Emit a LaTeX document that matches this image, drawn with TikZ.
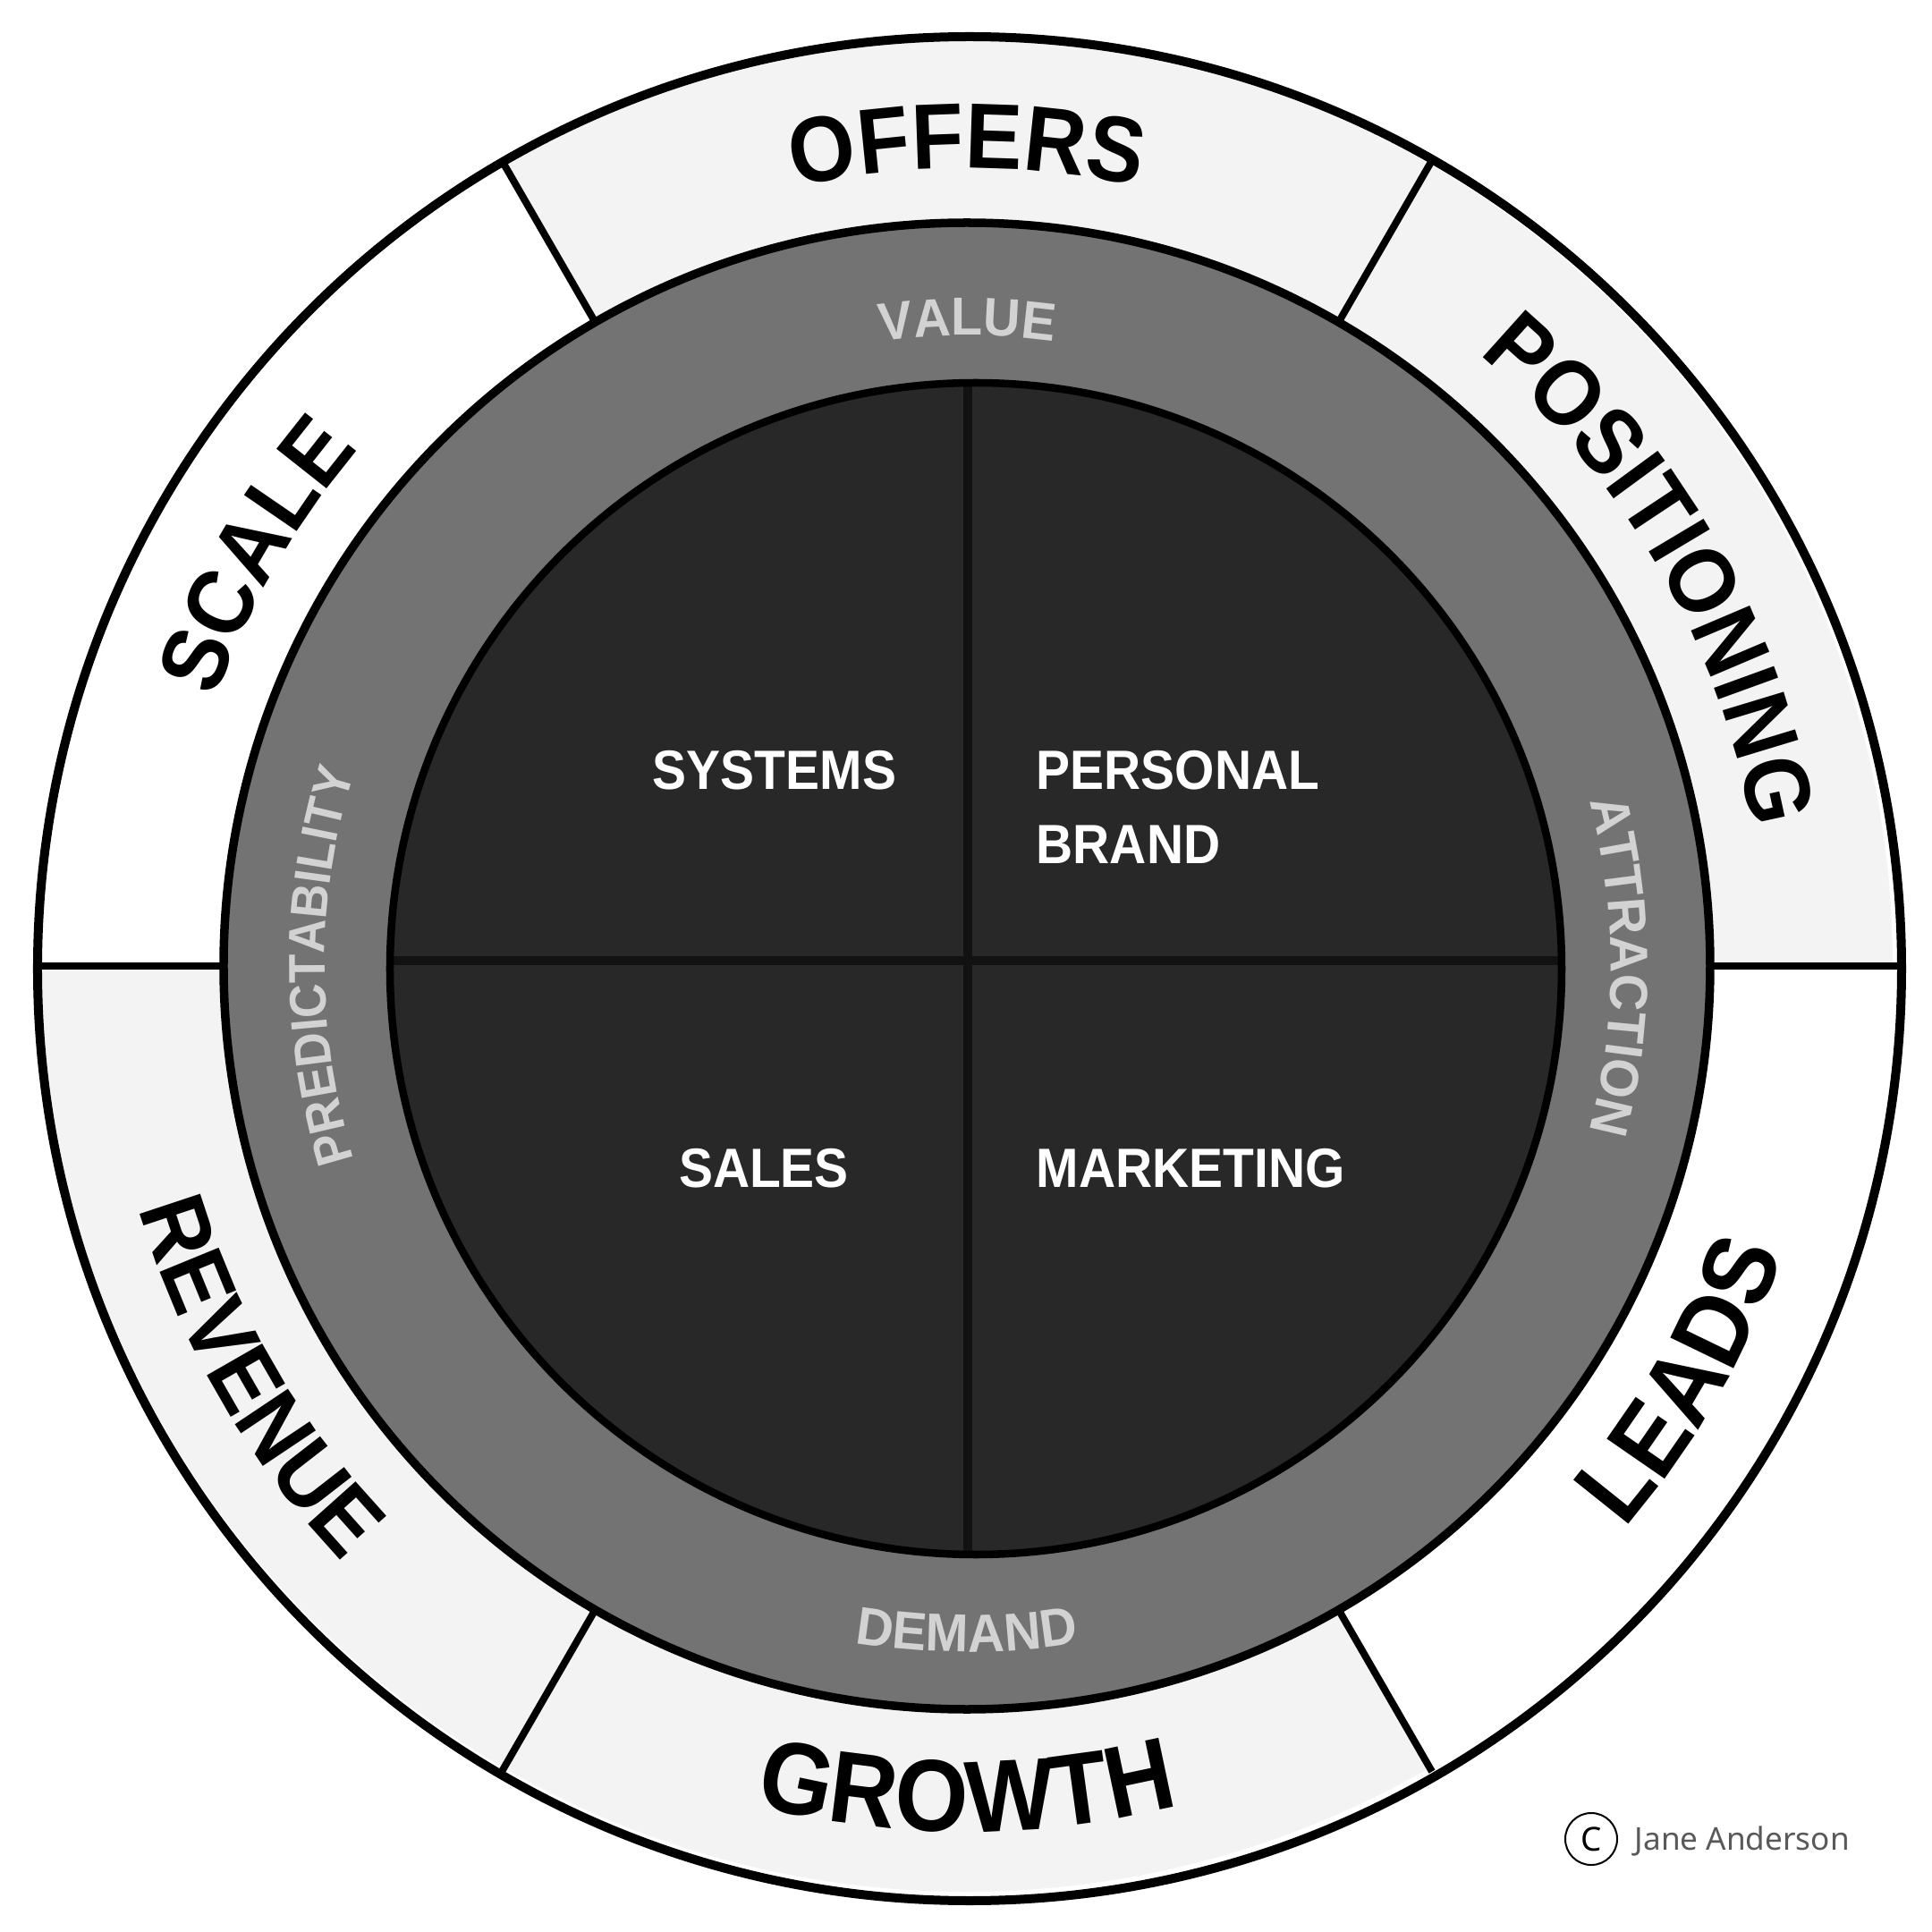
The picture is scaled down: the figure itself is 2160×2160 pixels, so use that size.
\documentclass[tikz,border=0pt]{standalone}
\usepackage{fontspec}
\setmainfont{Noto Sans}
\newfontfamily\headfont{Liberation Sans}[FakeStretch=0.92]
\newfontfamily\ringfont{Liberation Sans}[FakeStretch=0.96]
\usetikzlibrary{decorations.text}
\definecolor{lightseg}{HTML}{F3F3F3}
\definecolor{ringgray}{HTML}{737373}
\definecolor{innerdark}{HTML}{282828}
\definecolor{qline}{HTML}{121212}
\definecolor{ringtext}{HTML}{D2D2D2}
\definecolor{credit}{HTML}{595959}
\newcommand\outerfmt{\color{black}\headfont\bfseries\fontsize{29.5pt}{34pt}\selectfont}
\newcommand\bigouterfmt{\color{black}\headfont\bfseries\fontsize{32.5pt}{38pt}\selectfont}
\newcommand\ringfmt{\color{ringtext}\ringfont\bfseries\fontsize{17pt}{20pt}\selectfont}
\newcommand\narrowringfmt{\color{ringtext}\headfont\bfseries\fontsize{16.4pt}{20pt}\selectfont}
\tikzset{
  outerlabel/.style={decorate, decoration={text along path, text align=center, text={|\outerfmt|#1}}},
  bigouterlabel/.style={decorate, decoration={text along path, text align=center, text={|\bigouterfmt|#1}}},
  ringlabel/.style={decorate, decoration={text along path, text align=center, text={|\ringfmt|#1}}},
  narrowringlabel/.style={decorate, decoration={text along path, text align=center, text={|\narrowringfmt|#1}}},
  divider/.style={draw=black, line width=0.8mm},
  quadline/.style={draw=qline, line width=0.95mm},
  innerlabel/.style={inner sep=0pt, text=white, font=\headfont\bfseries\fontsize{17.6pt}{21pt}\selectfont},
}
\begin{document}
\begin{tikzpicture}[x=0.01cm, y=0.01cm]
\useasboundingbox (-1081,-1080) rectangle (1079,1080);
% outer ring segments
\fill[lightseg] (0,0) -- (0:1035) arc[start angle=0, end angle=120, radius=1035] -- cycle;
\fill[lightseg] (0,0) -- (180:1035) arc[start angle=180, end angle=300, radius=1035] -- cycle;
% dividers
\foreach \a in {0,60,120,180,240,300} \draw[divider] (\a:820) -- (\a:1040);
% outer circle
\draw[line width=1mm] (3,-3) circle (1042);
% middle ring
\filldraw[fill=ringgray, draw=black, line width=0.95mm] (0,0) circle (831);
% inner disc
\fill[innerdark] (10,-3) circle (655);
\begin{scope}
  \clip (10,-3) circle (655);
  \draw[quadline] (1,-700) -- (1,700);
  \draw[quadline] (-700,6) -- (720,6);
\end{scope}
\draw[line width=0.85mm] (10,-3) circle (655);
% outer labels
\path[outerlabel=OFFERS] (120:892) arc[start angle=120, end angle=60, radius=892];
\path[outerlabel=POSITIONING] (60:892) arc[start angle=60, end angle=0, radius=892];
\path[outerlabel=SCALE] (180:892) arc[start angle=180, end angle=120, radius=892];
\path[outerlabel=REVENUE] (180:965) arc[start angle=180, end angle=240, radius=965];
\path[bigouterlabel=GROWTH] (240:968) arc[start angle=240, end angle=300, radius=968];
\path[bigouterlabel=LEADS] (300:968) arc[start angle=300, end angle=360, radius=968];
% ring labels
\path[ringlabel=VALUE] (135:705) arc[start angle=135, end angle=45, radius=705];
\path[ringlabel=ATTRACTION] (45:720) arc[start angle=45, end angle=-45, radius=720];
\path[narrowringlabel=PREDICTABILITY] (225:718) arc[start angle=225, end angle=135, radius=718];
\path[ringlabel=DEMAND] (225:767) arc[start angle=225, end angle=315, radius=767];
% inner labels
\node[innerlabel, anchor=base] (systems) at (-215,197) {SYSTEMS};
\node[innerlabel, anchor=base west] (personal) at (77,197) {PERSONAL};
\node[innerlabel, anchor=base west] (brand) at (77,114) {BRAND};
\node[innerlabel, anchor=base] (sales) at (-227,-247) {SALES};
\node[innerlabel, anchor=base west] (marketing) at (77,-247) {MARKETING};
% credit
\node[circle, draw=black, line width=0.2mm, minimum size=5.8mm, inner sep=0pt, font=\fontsize{10.5pt}{12pt}\selectfont] (copysym) at (698,-976) {C};
\node[anchor=base west, inner sep=0pt, text=credit, font=\fontsize{10pt}{12pt}\selectfont] (author) at (746,-988) {Jane Anderson};
\end{tikzpicture}
\end{document}
